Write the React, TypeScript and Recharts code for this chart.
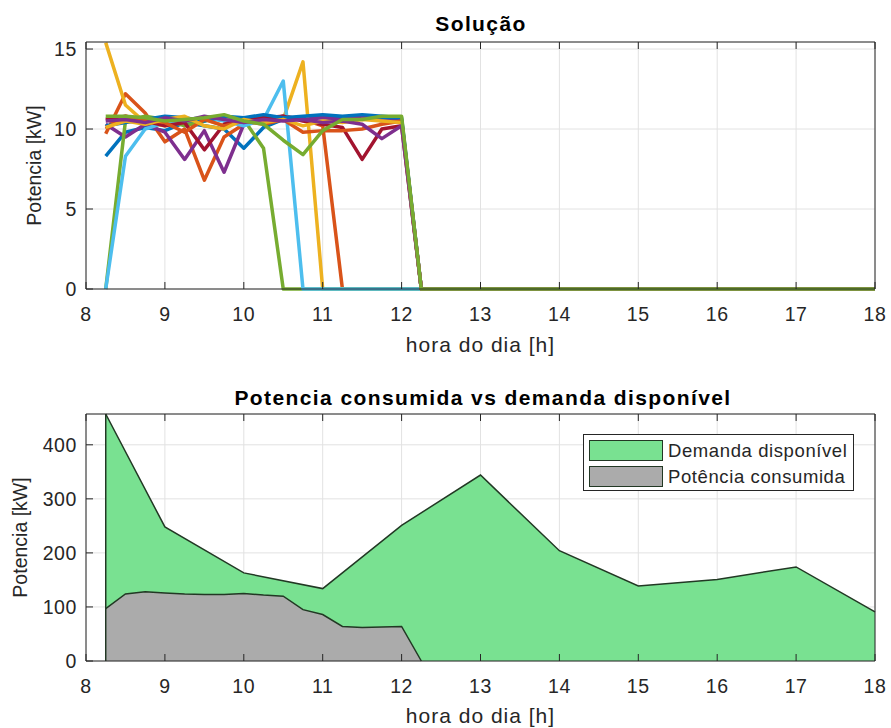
import React from 'react';
import { LineChart, Line, XAxis, YAxis, CartesianGrid, ComposedChart, Area, ReferenceLine } from 'recharts';

// horas (intervalos de 15 min) do gráfico "Solução"; 18 fecha o trecho em zero
const HORAS = [8.25, 8.5, 8.75, 9, 9.25, 9.5, 9.75, 10, 10.25, 10.5, 10.75, 11, 11.25, 11.5, 11.75, 12, 12.25, 18];

const CARGA_1 = [8.3, 9.8, 10.1, 9.9, 10.4, 10.2, 10.0, 8.8, 10.1, 10.6, 10.7, 10.8, 10.7, 10.8, 10.7, 10.6, 0, 0];
const CARGA_2 = [9.7, 12.2, 11.0, 9.2, 10.0, 6.8, 9.5, 10.3, 10.5, 10.8, 10.6, 10.2, 0, 0, 0, 0, 0, 0];
const CARGA_3 = [15.4, 11.5, 10.4, 10.2, 10.5, 10.6, 10.2, 10.5, 10.8, 10.6, 14.2, 0, 0, 0, 0, 0, 0, 0];
const CARGA_4 = [10.3, 9.5, 10.3, 9.8, 8.1, 9.9, 7.3, 10.3, 10.6, 10.8, 10.6, 10.7, 10.6, 10.8, 10.5, 10.5, 0, 0];
const CARGA_5 = [0, 10.5, 10.8, 10.6, 10.2, 10.5, 10.8, 10.6, 8.8, 0, 0, 0, 0, 0, 0, 0, 0, 0];
const CARGA_6 = [0, 8.3, 10.0, 10.4, 10.6, 10.7, 10.5, 10.2, 10.6, 13.0, 0, 0, 0, 0, 0, 0, 0, 0];
const CARGA_7 = [10.6, 10.8, 10.5, 10.2, 10.4, 8.7, 10.3, 10.6, 10.7, 10.8, 10.5, 10.3, 10.1, 8.1, 10.0, 10.2, 0, 0];
const CARGA_8 = [10.2, 10.4, 10.6, 10.8, 10.7, 10.5, 10.8, 10.7, 10.9, 10.7, 10.8, 10.9, 10.8, 10.9, 10.8, 10.7, 0, 0];
const CARGA_9 = [10.0, 10.8, 10.6, 10.4, 9.8, 10.6, 10.2, 10.5, 10.3, 10.6, 9.8, 9.9, 9.9, 10.0, 10.3, 10.5, 0, 0];
const CARGA_10 = [10.1, 10.5, 10.3, 10.6, 10.8, 10.2, 10.0, 10.6, 10.4, 10.6, 10.2, 10.5, 10.4, 10.6, 10.5, 10.4, 0, 0];
const CARGA_11 = [10.5, 10.6, 10.4, 10.7, 10.5, 10.8, 10.6, 10.4, 10.6, 10.5, 10.6, 10.4, 10.5, 10.3, 9.4, 10.2, 0, 0];
const CARGA_12 = [10.8, 10.8, 10.7, 10.5, 10.6, 10.7, 10.9, 10.5, 10.3, 9.3, 8.4, 9.9, 10.6, 10.6, 10.8, 10.8, 0, 0];

const CARGAS = [CARGA_1, CARGA_2, CARGA_3, CARGA_4, CARGA_5, CARGA_6, CARGA_7, CARGA_8, CARGA_9, CARGA_10, CARGA_11, CARGA_12];
const CORES = ['#0072BD', '#D95319', '#EDB120', '#7E2F8E', '#77AC30', '#4DBEEE', '#A2142F',
  '#0072BD', '#D95319', '#EDB120', '#7E2F8E', '#77AC30'];

const X_TICKS = [8, 9, 10, 11, 12, 13, 14, 15, 16, 17, 18];
const Y_TICKS_SOL = [0, 5, 10, 15];
const Y_TICKS_POT = [0, 100, 200, 300, 400];

// segundo gráfico
const HORAS_DEMANDA = [8.25, 9, 10, 11, 12, 13, 14, 15, 16, 17, 18];
const DEMANDA = [457, 248, 163, 134, 251, 344, 204, 139, 151, 174, 91];
const HORAS_CONSUMO = [8.25, 8.5, 8.75, 9, 9.25, 9.5, 9.75, 10, 10.25, 10.5, 10.75, 11, 11.25, 11.5, 11.75, 12, 12.25];
const CONSUMO = [97, 124, 128, 126, 124, 123, 123, 125, 122, 120, 95, 86, 64, 62, 63, 64, 0];

const AXIS = '#262626';
const FONT = '"Liberation Sans", Arial, Helvetica, sans-serif';
const VERDE = '#79E191';
const CINZA = '#ABABAB';
const BORDA = '#223824';

const solucaoData = HORAS.map((h, i) => {
  const row: Record<string, number> = { h };
  CARGAS.forEach((c, k) => { row['c' + k] = c[i]; });
  return row;
});

const potenciaData = Array.from(new Set([...HORAS_CONSUMO, ...HORAS_DEMANDA]))
  .sort((a, b) => a - b)
  .map((h) => {
    const d = HORAS_DEMANDA.indexOf(h);
    const c = HORAS_CONSUMO.indexOf(h);
    return { h, demanda: d >= 0 ? DEMANDA[d] : null, consumo: c >= 0 ? CONSUMO[c] : null };
  });

const BottomTick = (props: any) => {
  const { x, y, payload } = props;
  return (
    <g>
      <line x1={x} x2={x} y1={y} y2={y - 7} stroke={AXIS} />
      <text x={x} y={y + 32} textAnchor="middle" fill={AXIS} fontSize={19.5} fontFamily={FONT}
        style={{ letterSpacing: '0.6px' }}>{payload.value}</text>
    </g>
  );
};

const TopTick = (props: any) => {
  const { x, y } = props;
  return <line x1={x} x2={x} y1={y} y2={y + 7} stroke={AXIS} />;
};

const LeftTick = (props: any) => {
  const { x, y, payload } = props;
  return (
    <g>
      <line x1={x} x2={x + 7} y1={y} y2={y} stroke={AXIS} />
      <text x={x - 9} y={y} dy="0.36em" textAnchor="end" fill={AXIS} fontSize={19.5} fontFamily={FONT}
        style={{ letterSpacing: '0.6px' }}>{payload.value}</text>
    </g>
  );
};

const RightTick = (props: any) => {
  const { x, y } = props;
  return <line x1={x} x2={x - 7} y1={y} y2={y} stroke={AXIS} />;
};

const xLabel = (offset: number) => ({
  value: 'hora do dia [h]', position: 'insideBottom', offset, fill: AXIS, fontSize: 21, fontFamily: FONT,
  style: { letterSpacing: '1px' },
});
const yLabel = (offset: number) => ({
  value: 'Potencia [kW]', angle: -90, position: 'insideLeft', offset, fill: AXIS, fontSize: 19.5, fontFamily: FONT,
  style: { textAnchor: 'middle' },
});

const Axes = ({ xh, yDomain, yTicks, xOff, yOff }: any) => [
  <XAxis key="xb" dataKey="h" type="number" domain={[8, 18]} ticks={X_TICKS} interval={0}
    height={xh} tickSize={0} tickMargin={0} tickLine={false} axisLine={{ stroke: AXIS }}
    tick={<BottomTick />} label={xLabel(xOff)} />,
  <XAxis key="xt" xAxisId="top" orientation="top" dataKey="h" type="number" domain={[8, 18]} ticks={X_TICKS}
    interval={0} height={1} tickSize={0} tickMargin={0} tickLine={false} axisLine={{ stroke: AXIS }}
    tick={<TopTick />} />,
  <YAxis key="yl" type="number" domain={yDomain} ticks={yTicks} interval={0} width={86}
    tickSize={0} tickMargin={0} tickLine={false} axisLine={{ stroke: AXIS }}
    tick={<LeftTick />} label={yLabel(yOff)} />,
  <YAxis key="yr" yAxisId="right" orientation="right" type="number" domain={yDomain} ticks={yTicks}
    interval={0} width={1} tickSize={0} tickMargin={0} tickLine={false} axisLine={{ stroke: AXIS }}
    tick={<RightTick />} />,
];

export default function App() {
  return (
    <div style={{ position: 'absolute', left: 0, top: 0, width: 891, height: 728, background: '#fff' }}>
      <div style={{ position: 'absolute', left: 0, top: 0 }}>
        <LineChart width={891} height={365} data={solucaoData} margin={{ top: 41, right: 15, bottom: 0, left: 0 }}>
          <CartesianGrid stroke="#e2e2e2" />
          {Axes({ xh: 76, yDomain: [0, 15.44], yTicks: Y_TICKS_SOL, xOff: 13, yOff: 34 })}
          {CARGAS.map((_, k) => (
            <Line key={k} dataKey={'c' + k} type="linear" stroke={CORES[k]} strokeWidth={3.5}
              dot={false} strokeLinejoin="round" isAnimationActive={false} />
          ))}
        </LineChart>
      </div>
      <div style={{ position: 'absolute', left: 0, top: 365 }}>
        <ComposedChart width={891} height={363} data={potenciaData} margin={{ top: 48, right: 15, bottom: 0, left: 0 }}>
          <CartesianGrid stroke="#e2e2e2" />
          {Axes({ xh: 67, yDomain: [0, 457], yTicks: Y_TICKS_POT, xOff: 5, yOff: 20 })}
          <Area dataKey="demanda" type="linear" connectNulls fill={VERDE} fillOpacity={1}
            stroke={BORDA} strokeWidth={1.5} isAnimationActive={false} />
          <Area dataKey="consumo" type="linear" fill={CINZA} fillOpacity={1}
            stroke={BORDA} strokeWidth={1.5} isAnimationActive={false} />
          <ReferenceLine segment={[{ x: HORAS_DEMANDA[0], y: 0 }, { x: HORAS_DEMANDA[0], y: DEMANDA[0] }]}
            stroke={BORDA} strokeWidth={1.5} />
        </ComposedChart>
      </div>
      <div style={{
        position: 'absolute', left: 583, top: 434, width: 269, height: 55, border: `1px solid ${AXIS}`,
        background: '#fff', fontFamily: FONT, fontSize: 18.5, letterSpacing: '0.6px', color: AXIS,
      }}>
        {[['Demanda disponível', VERDE], ['Potência consumida', CINZA]].map(([nome, cor], i) => (
          <div key={nome} style={{ position: 'absolute', left: 5, top: 5 + i * 26, height: 21, display: 'flex', alignItems: 'center' }}>
            <div style={{ width: 72, height: 19, background: cor, border: `1.5px solid ${BORDA}` }} />
            <span style={{ marginLeft: 5, whiteSpace: 'nowrap' }}>{nome}</span>
          </div>
        ))}
      </div>
      <svg width={891} height={728} style={{ position: 'absolute', left: 0, top: 0, pointerEvents: 'none' }}>
        <text x={481} y={31} textAnchor="middle" fontFamily={FONT} fontWeight="bold" fontSize={21} fill="#000"
          style={{ letterSpacing: '1.4px' }}>Solução</text>
        <text x={483} y={405} textAnchor="middle" fontFamily={FONT} fontWeight="bold" fontSize={21} fill="#000"
          style={{ letterSpacing: '1.4px' }}>
          Potencia consumida vs demanda disponível
        </text>
      </svg>
    </div>
  );
}
